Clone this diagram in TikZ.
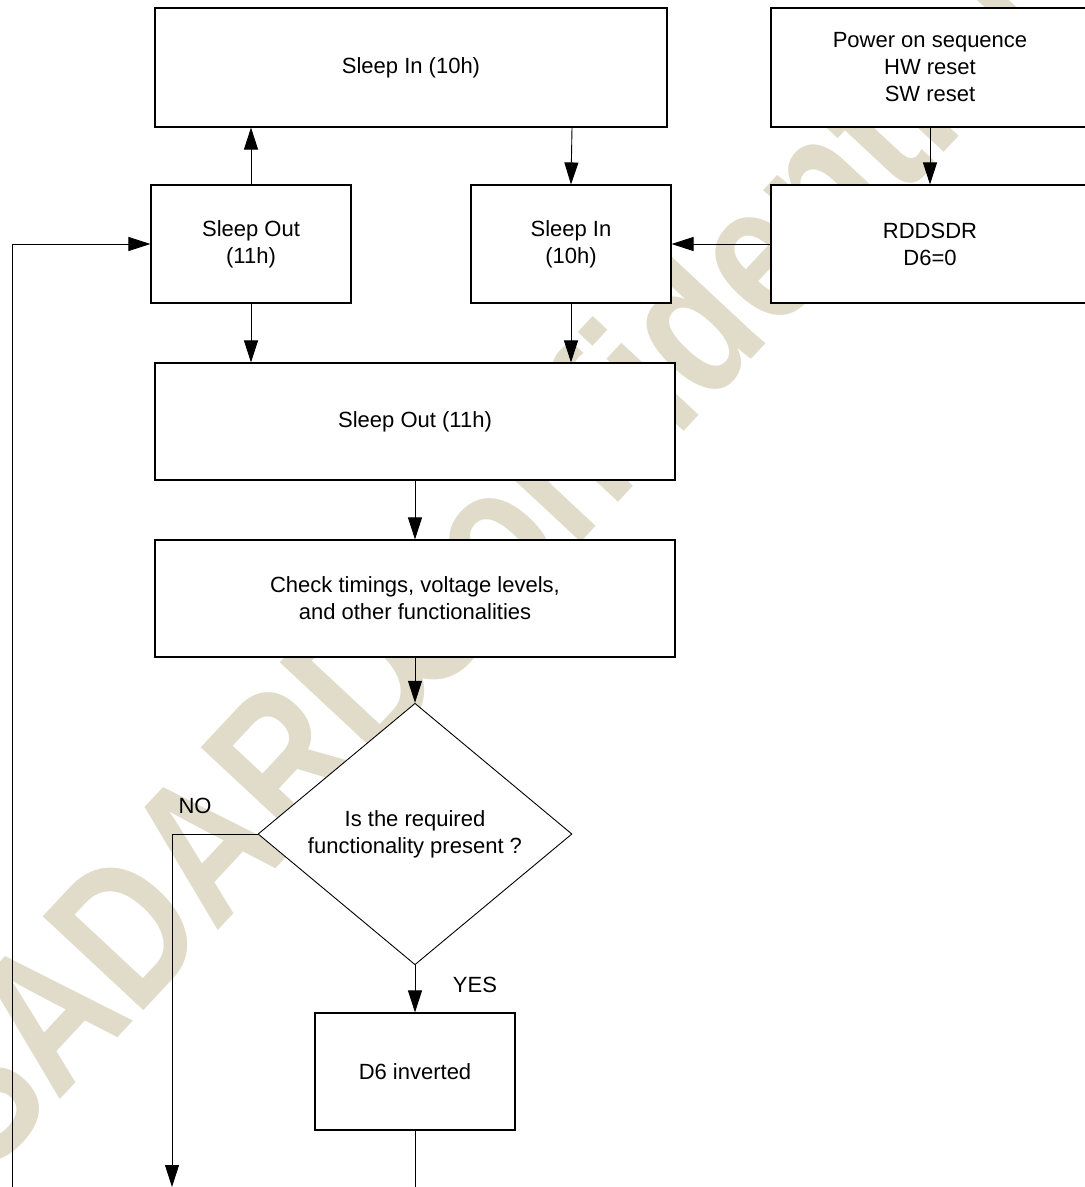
\documentclass[tikz,border=0pt]{standalone}
\usepackage{fontspec}
\setmainfont{Liberation Sans}
\usetikzlibrary{arrows.meta,shapes.geometric,calc}
\definecolor{wm}{RGB}{224,220,201}
\begin{document}
\begin{tikzpicture}[x=1pt,y=-1pt,
  blk/.style={draw, fill=white, line width=1.1pt, inner sep=0pt, align=center, font=\fontsize{22}{27}\selectfont},
  arr/.style={line width=0.9pt, -{Triangle[length=22pt,width=14pt]}},
  ln/.style={line width=0.9pt},
  lbl/.style={font=\fontsize{22}{27}\selectfont, inner sep=0pt},
  dec/.style={draw, fill=white, diamond, line width=0.9pt, inner sep=0pt, align=center, font=\fontsize{22}{27}\selectfont}
]
\useasboundingbox (0,0) rectangle (1085,1187);
\fill[white] (0,0) rectangle (1085,1187);
% watermark
\begin{scope}
\clip (0,0) rectangle (1085,1187);
\node[text=wm, anchor=base west, rotate=47, inner sep=0pt, font=\fontsize{200}{200}\selectfont\bfseries] (wmark) at (-15,1181) {\scalebox{0.8}[1]{SADARD\kern-100pt\ Confidential}};
\end{scope}
% boxes
\node[blk, minimum width=512pt, minimum height=119pt] (A) at (411,67.5) {Sleep In (10h)};
\node[blk, minimum width=318pt, minimum height=119pt] (B) at (930,67.5) {Power on sequence\\HW reset\\SW reset};
\node[blk, minimum width=200pt, minimum height=118pt] (C) at (251,244) {Sleep Out\\(11h)};
\node[blk, minimum width=200pt, minimum height=118pt] (D) at (571,244) {Sleep In\\(10h)};
\node[blk, minimum width=318pt, minimum height=118pt] (E) at (930,244) {RDDSDR\\D6=0};
\node[blk, minimum width=520pt, minimum height=117pt] (F) at (415,421.5) {Sleep Out (11h)};
\node[blk, minimum width=520pt, minimum height=117pt] (G) at (415,598.5) {Check timings, voltage levels,\\and other functionalities};
\node[dec, minimum width=314pt, minimum height=222pt] (Q) at (415,834) {Is the required\\functionality present ?};
\node[blk, minimum width=200pt, minimum height=117pt] (H) at (415,1071.5) {D6 inverted};
\node[lbl] (no) at (195,806) {NO};
\node[lbl] (yes) at (475,985) {YES};
% free ends
\coordinate (noend) at (172,1187);
\coordinate (hend) at (415,1187);
\coordinate (fbstart) at (12,1187);
% connectors
\draw[arr] (C.north) -- (C.north |- A.south);
\draw[arr] ([xshift=1pt]D.north |- A.south) -- (D.north);
\draw[arr] (B.south) -- (E.north);
\draw[arr] (E.west) -- (D.east);
\draw[arr] (C.south) -- (C.south |- F.north);
\draw[arr] (D.south) -- (D.south |- F.north);
\draw[arr] (F.south) -- (G.north);
\draw[arr] (G.south) -- (Q.north);
\draw[arr] (Q.south) -- (H.north);
\draw[arr] (Q.west) -| (noend);
\draw[ln] (H.south) -- (hend);
\draw[arr] (fbstart) |- (C.west);
\end{tikzpicture}
\end{document}
